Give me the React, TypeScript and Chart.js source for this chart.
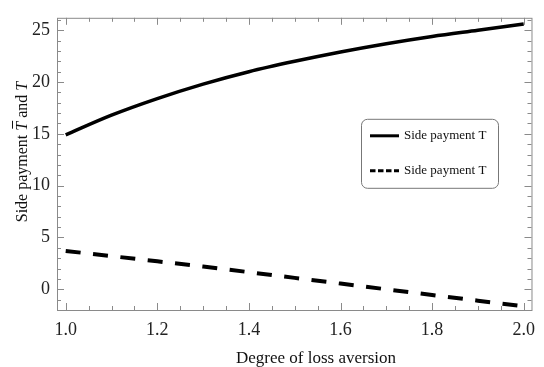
import React, { useEffect, useRef } from "react";
import { Chart, registerables } from "chart.js";

Chart.register(...registerables);

const xValues = [1.0, 1.1, 1.2, 1.3, 1.4, 1.5, 1.6, 1.7, 1.8, 1.9, 2.0];
const upperT = [14.9, 16.8, 18.4, 19.8, 21.0, 22.0, 22.9, 23.7, 24.4, 25.0, 25.6];
const lowerT = [3.7, 3.2, 2.7, 2.2, 1.65, 1.1, 0.55, 0.0, -0.55, -1.1, -1.65];
const xTickValues = [1.0, 1.2, 1.4, 1.6, 1.8, 2.0];
const yTickValues = [0, 5, 10, 15, 20, 25];
const seriesNames = ["Side payment T", "Side payment T"];
const xTitle = "Degree of loss aversion";

const FONT = "'Liberation Serif', 'Times New Roman', serif";

const framePlugin = {
  id: "frameTicks",
  afterDraw(chart: any) {
    const { ctx, chartArea: a, scales } = chart;
    const xs = scales.x;
    const ys = scales.y;
    ctx.save();
    ctx.strokeStyle = "#8a8a8a";
    ctx.lineWidth = 1;
    ctx.strokeRect(a.left + 0.5, a.top + 0.5, a.right - a.left, a.bottom - a.top);
    ctx.beginPath();
    for (let i = 0; i <= 20; i++) {
      const v = 1 + i * 0.05;
      const px = Math.round(xs.getPixelForValue(v)) + 0.5;
      const len = i % 4 === 0 ? 7 : 4;
      ctx.moveTo(px, a.bottom);
      ctx.lineTo(px, a.bottom - len);
      ctx.moveTo(px, a.top);
      ctx.lineTo(px, a.top + len);
    }
    for (let v = -2; v <= 26; v++) {
      const py = Math.round(ys.getPixelForValue(v)) + 0.5;
      const len = v % 5 === 0 ? 7 : 4;
      ctx.moveTo(a.left, py);
      ctx.lineTo(a.left + len, py);
      ctx.moveTo(a.right, py);
      ctx.lineTo(a.right - len, py);
    }
    ctx.stroke();

    // legend
    const lx = a.left + 304;
    const ly = a.top + 101;
    const lw = 137;
    const lh = 69;
    ctx.beginPath();
    ctx.strokeStyle = "#777";
    ctx.lineWidth = 1;
    (ctx as any).roundRect(lx + 0.5, ly + 0.5, lw, lh, 6);
    ctx.stroke();
    const rows = [ly + 17, ly + 52];
    ctx.fillStyle = "#111";
    ctx.font = `13px ${FONT}`;
    ctx.textBaseline = "middle";
    ctx.textAlign = "left";
    rows.forEach((ry, i) => {
      ctx.beginPath();
      ctx.strokeStyle = "#000";
      ctx.lineWidth = 3;
      ctx.setLineDash(i === 0 ? [] : [5.5, 2.5]);
      ctx.moveTo(lx + 9, ry);
      ctx.lineTo(lx + 38, ry);
      ctx.stroke();
      ctx.setLineDash([]);
      ctx.fillText(seriesNames[i], lx + 43, ry);
    });

    // x title
    ctx.font = `17px ${FONT}`;
    ctx.textAlign = "center";
    ctx.textBaseline = "alphabetic";
    ctx.fillStyle = "#111";
    ctx.fillText(xTitle, a.left + 259, a.bottom + 53);

    // y title with italic T and overbar
    ctx.translate(21, 152);
    ctx.rotate(-Math.PI / 2);
    const parts = [
      { t: "Side payment ", it: false, bar: false },
      { t: "T", it: true, bar: true },
      { t: " and ", it: false, bar: false },
      { t: "T", it: true, bar: false },
    ];
    const widths = parts.map((p) => {
      ctx.font = `${p.it ? "italic " : ""}16px ${FONT}`;
      return ctx.measureText(p.t).width;
    });
    const total = widths.reduce((s, w) => s + w, 0);
    let cx = -total / 2;
    ctx.textAlign = "left";
    ctx.textBaseline = "alphabetic";
    parts.forEach((p, i) => {
      ctx.font = `${p.it ? "italic " : ""}16px ${FONT}`;
      ctx.fillText(p.t, cx, 6);
      if (p.bar) {
        ctx.beginPath();
        ctx.strokeStyle = "#111";
        ctx.lineWidth = 1;
        ctx.moveTo(cx + 2, 6 - 14.5);
        ctx.lineTo(cx + widths[i] + 1, 6 - 14.5);
        ctx.stroke();
      }
      cx += widths[i];
    });
    ctx.restore();
  },
};

export default function App() {
  const ref = useRef<HTMLCanvasElement | null>(null);
  useEffect(() => {
    if (!ref.current) return;
    const chart = new Chart(ref.current, {
      type: "line",
      data: {
        datasets: [
          {
            label: seriesNames[0],
            data: xValues.map((x, i) => ({ x, y: upperT[i] })),
            borderColor: "#000",
            borderWidth: 3.5,
            pointRadius: 0,
            cubicInterpolationMode: "monotone",
            fill: false,
          },
          {
            label: seriesNames[1],
            data: xValues.map((x, i) => ({ x, y: lowerT[i] })),
            borderColor: "#000",
            borderWidth: 4,
            borderDash: [15, 12.5],
            borderCapStyle: "butt",
            pointRadius: 0,
            fill: false,
          },
        ],
      },
      options: {
        responsive: false,
        animation: false,
        layout: { padding: { left: 0, right: 3, top: 9, bottom: 0 } },
        plugins: { legend: { display: false }, tooltip: { enabled: false } },
        scales: {
          x: {
            type: "linear",
            min: 0.981,
            max: 2.017,
            grid: { display: false, drawTicks: false },
            border: { display: false },
            afterBuildTicks: (s: any) => {
              s.ticks = xTickValues.map((v) => ({ value: v }));
            },
            afterFit: (s: any) => {
              s.height = 57;
            },
            ticks: {
              autoSkip: false,
              maxRotation: 0,
              padding: 9,
              color: "#222",
              font: { family: FONT, size: 18 },
              callback: (v: any) => Number(v).toFixed(1),
            },
          },
          y: {
            type: "linear",
            min: -2,
            max: 26.2,
            grid: { display: false, drawTicks: false },
            border: { display: false },
            afterBuildTicks: (s: any) => {
              s.ticks = yTickValues.map((v) => ({ value: v }));
            },
            afterFit: (s: any) => {
              s.width = 57;
            },
            ticks: {
              autoSkip: false,
              padding: 7,
              color: "#222",
              font: { family: FONT, size: 18 },
            },
          },
        },
      },
      plugins: [framePlugin],
    } as any);
    return () => chart.destroy();
  }, []);
  return (
    <div style={{ position: "fixed", left: 0, top: 0, width: 544, height: 367, background: "#fff" }}>
      <canvas ref={ref} width={544} height={367} />
    </div>
  );
}
